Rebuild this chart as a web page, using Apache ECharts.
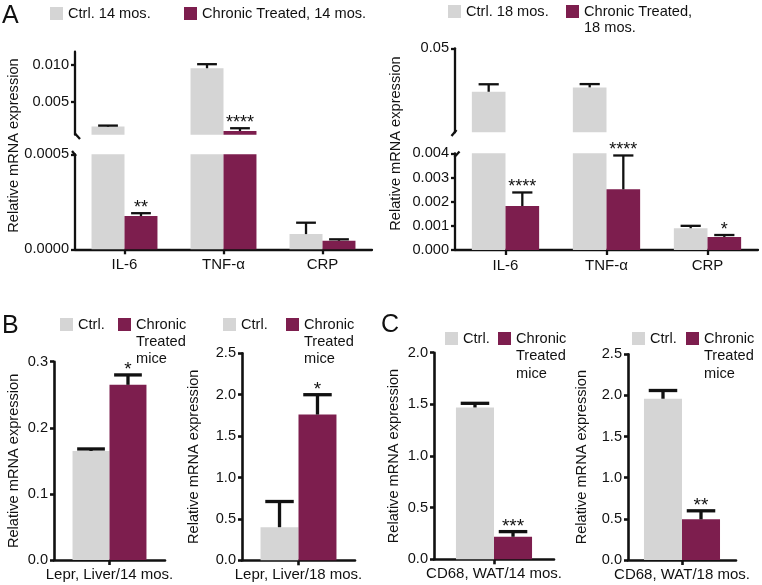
<!DOCTYPE html>
<html><head><meta charset="utf-8">
<script src="https://cdn.jsdelivr.net/npm/echarts@6/dist/echarts.min.js"></script>
<style>html,body{margin:0;padding:0;background:#fff}#c{width:762px;height:585px}</style>
</head><body><div id="c"></div>
<script>
// ---------- DATA ----------
// Panel A, 14 months
const genesA = ['IL-6', 'TNF-α', 'CRP'];
const ctrl14 = [0.0016, 0.00955, 0.00008];
const ctrl14Err = [0.00014, 0.00055, 0.00006];
const treated14 = [0.000175, 0.0010, 0.000045];
const treated14Err = [0.000015, 0.00038, 0.0000075];
const treated14Sig = ['**', '****', ''];
const ticksA14Upper = [0.005, 0.010];
// Panel A, 18 months
const ctrl18 = [0.0262, 0.0286, 0.0009];
const ctrl18Err = [0.0041, 0.0018, 0.0001];
const treated18 = [0.00182, 0.00251, 0.00054];
const treated18Err = [0.00056, 0.0014, 0.00008];
const treated18Sig = ['****', '****', '*'];
const ticksA18Upper = [0.05];
// Panel B
const leprCat14 = ['Lepr, Liver/14 mos.'];
const leprCtrl14 = [0.165], leprCtrl14Err = [0.003];
const leprTreated14 = [0.265], leprTreated14Err = [0.015], leprSig14 = ['*'];
const leprCat18 = ['Lepr, Liver/18 mos.'];
const leprCtrl18 = [0.40], leprCtrl18Err = [0.31];
const leprTreated18 = [1.76], leprTreated18Err = [0.24], leprSig18 = ['*'];
// Panel C
const cd68Cat14 = ['CD68, WAT/14 mos.'];
const cd68Ctrl14 = [1.47], cd68Ctrl14Err = [0.04];
const cd68Treated14 = [0.218], cd68Treated14Err = [0.05], cd68Sig14 = ['***'];
const cd68Cat18 = ['CD68, WAT/18 mos.'];
const cd68Ctrl18 = [1.96], cd68Ctrl18Err = [0.10];
const cd68Treated18 = [0.494], cd68Treated18Err = [0.104], cd68Sig18 = ['**'];
const noSig = ['', '', ''];

// ---------- STYLE ----------
const FONT = '"Liberation Sans", Arial, Helvetica, sans-serif';
const GRAY = '#d5d5d5', MAROON = '#7d1e4e', INK = '#111';
const YTITLE = 'Relative mRNA expression';

const grid = [], xAxis = [], yAxis = [], series = [], legend = [], graphic = [];

function addGrid(box, cats, y, showX, lw, xMargin) {
  const gi = grid.length;
  grid.push({left: box[0], top: box[1], width: box[2], height: box[3]});
  xAxis.push({
    type: 'category', gridIndex: gi, data: cats, show: showX,
    axisLine: {show: true, lineStyle: {color: INK, width: lw}},
    axisTick: {show: true, alignWithLabel: true, length: 5, lineStyle: {color: INK, width: lw}},
    axisLabel: {color: INK, fontSize: 15, fontFamily: FONT, margin: xMargin, interval: 0},
    splitLine: {show: false}
  });
  const lab = {color: INK, fontSize: 14.6, fontFamily: FONT, margin: 6, formatter: v => v.toFixed(y.dec)};
  const tick = {show: true, length: 4, lineStyle: {color: INK, width: lw}};
  if (y.custom) { lab.customValues = y.custom; tick.customValues = y.custom; }
  const ya = {
    type: 'value', gridIndex: gi, min: y.min, max: y.max,
    axisLine: {show: true, lineStyle: {color: INK, width: lw}},
    axisTick: tick, axisLabel: lab, splitLine: {show: false}
  };
  if (y.interval) ya.interval = y.interval;
  if (y.name) {
    ya.name = y.name; ya.nameLocation = 'middle'; ya.nameRotate = 90; ya.nameGap = y.nameGap;
    ya.nameTextStyle = {color: INK, fontSize: 14.6, fontFamily: FONT, lineHeight: 17};
  }
  yAxis.push(ya);
  return gi;
}

function addBars(gi, name, values, color, pct) {
  series.push({type: 'bar', name, xAxisIndex: gi, yAxisIndex: gi, data: values,
    barWidth: pct + '%', barGap: '0%', itemStyle: {color}, clip: true, silent: true, z: 2});
}

function addErr(gi, values, errs, sig, side, pct, capPct, lw, lo, hi, starSize) {
  series.push({
    type: 'custom', xAxisIndex: gi, yAxisIndex: gi, silent: true, z: 5,
    data: values.map((v, i) => [i, v, errs[i]]),
    renderItem: function (params, api) {
      const i = api.value(0), v = api.value(1), e = api.value(2);
      const top = v + e;
      const band = api.size([1, 0])[0];
      const bw = band * pct / 100;
      const x = api.coord([i, 0])[0] + side * bw / 2;
      const ch = [];
      const a = Math.max(v, lo), b = Math.min(top, hi);
      if (b > a) ch.push({type: 'line', shape: {x1: x, y1: api.coord([i, a])[1], x2: x, y2: api.coord([i, b])[1]},
        style: {stroke: INK, lineWidth: lw}});
      if (top >= lo && top <= hi) {
        const yc = api.coord([i, top])[1];
        const hw = bw * capPct / 2;
        ch.push({type: 'line', shape: {x1: x - hw, y1: yc, x2: x + hw, y2: yc}, style: {stroke: INK, lineWidth: lw}});
        const s = sig[params.dataIndex];
        if (s) ch.push({type: 'text', x: x, y: yc - 5,
          style: {text: s, font: starSize + 'px ' + FONT, fill: INK, align: 'center', verticalAlign: 'middle'}});
      }
      return {type: 'group', children: ch};
    }
  });
}

// Legend item whose first text line sits beside the square; extra lines hang below it.
function addLegend(name, left, iconTop, lines, lh) {
  const boxTopRel = 6.5 - (2 * lines - 1) * lh / 2;
  legend.push({
    data: [name], left: left, top: iconTop + boxTopRel, padding: 0, itemGap: 0,
    icon: 'rect', itemWidth: 13, itemHeight: 13, selectedMode: false,
    formatter: n => '\n'.repeat(lines - 1) + n,
    textStyle: {color: INK, fontSize: 14.6, fontFamily: FONT, lineHeight: lh}
  });
}

// ---------- PANEL A (14 mos.) ----------
{
  const pct = 33.3, lw = 2.3;
  const up = addGrid([75, 51.7, 297, 83], genesA, {min: 0.0005, max: 0.0118, custom: ticksA14Upper, dec: 3}, false, lw, 8);
  const lo = addGrid([75, 154.3, 297, 95], genesA, {min: 0, max: 0.0005, interval: 0.0005, dec: 4}, true, lw, 8);
  [[up, 0.0005, 0.0118], [lo, 0, 0.0005]].forEach(([g, a, b]) => {
    addBars(g, 'Ctrl. 14 mos.', ctrl14, GRAY, pct);
    addBars(g, 'Chronic Treated, 14 mos.', treated14, MAROON, pct);
    addErr(g, ctrl14, ctrl14Err, noSig, -1, pct, 0.6, lw, a, b, 18);
    addErr(g, treated14, treated14Err, treated14Sig, 1, pct, 0.6, lw, a, b, 18);
  });
  addLegend('Ctrl. 14 mos.', 50, 7, 1, 17);
  addLegend('Chronic Treated, 14 mos.', 184, 7, 1, 17);
  graphic.push({type: 'text', x: 14, y: 145.5, rotation: Math.PI / 2,
    style: {text: YTITLE, font: '14.6px ' + FONT, fill: INK, align: 'center', verticalAlign: 'middle'}});
  graphic.push({type: 'line', shape: {x1: 75, y1: 133.5, x2: 80, y2: 139}, style: {stroke: INK, lineWidth: lw}});
  graphic.push({type: 'line', shape: {x1: 72, y1: 151, x2: 76, y2: 156}, style: {stroke: INK, lineWidth: lw}});
}
// ---------- PANEL A (18 mos.) ----------
{
  const pct = 33.3, lw = 2.3;
  const up = addGrid([455, 48.3, 303, 84], genesA, {min: 0.004, max: 0.05, custom: ticksA18Upper, dec: 2}, false, lw, 8);
  const lo = addGrid([455, 153.3, 303, 96.7], genesA, {min: 0, max: 0.004, interval: 0.001, dec: 3}, true, lw, 8);
  [[up, 0.004, 0.05], [lo, 0, 0.004]].forEach(([g, a, b]) => {
    addBars(g, 'Ctrl. 18 mos.', ctrl18, GRAY, pct);
    addBars(g, 'Chronic Treated,\n18 mos.', treated18, MAROON, pct);
    addErr(g, ctrl18, ctrl18Err, noSig, -1, pct, 0.6, lw, a, b, 18);
    addErr(g, treated18, treated18Err, treated18Sig, 1, pct, 0.6, lw, a, b, 18);
  });
  addLegend('Ctrl. 18 mos.', 448, 5, 1, 17);
  addLegend('Chronic Treated,\n18 mos.', 566, 5, 2, 16);
  graphic.push({type: 'text', x: 395.5, y: 143.5, rotation: Math.PI / 2,
    style: {text: YTITLE, font: '14.6px ' + FONT, fill: INK, align: 'center', verticalAlign: 'middle'}});
  graphic.push({type: 'line', shape: {x1: 451.5, y1: 136, x2: 456.5, y2: 130}, style: {stroke: INK, lineWidth: lw}});
  graphic.push({type: 'line', shape: {x1: 454.5, y1: 157, x2: 459.5, y2: 151.5}, style: {stroke: INK, lineWidth: lw}});
}
// ---------- PANELS B, C ----------
function simplePanel(box, cats, ctrl, ctrlErr, trt, trtErr, sig, max, nameGap, pct) {
  const lw = 2.6;
  const g = addGrid(box, cats, {min: 0, max: max, interval: 0.5 * (max <= 0.5 ? 0.2 : 1), dec: 1, name: YTITLE, nameGap: nameGap}, true, lw, 7);
  addBars(g, 'Ctrl.', ctrl, GRAY, pct);
  addBars(g, 'Chronic\nTreated\nmice', trt, MAROON, pct);
  addErr(g, ctrl, ctrlErr, [''], -1, pct, 0.75, 3.3, 0, max, 19);
  addErr(g, trt, trtErr, sig, 1, pct, 0.75, 3.3, 0, max, 19);
}
simplePanel([54, 361.7, 111, 198.3], leprCat14, leprCtrl14, leprCtrl14Err, leprTreated14, leprTreated14Err, leprSig14, 0.3, 31.5, 33.3);
simplePanel([242, 353.3, 113, 207], leprCat18, leprCtrl18, leprCtrl18Err, leprTreated18, leprTreated18Err, leprSig18, 2.5, 39.5, 33.6);
simplePanel([434, 352.7, 120, 206.6], cd68Cat14, cd68Ctrl14, cd68Ctrl14Err, cd68Treated14, cd68Treated14Err, cd68Sig14, 2.0, 32, 31.7);
simplePanel([628, 354.3, 108, 205.7], cd68Cat18, cd68Ctrl18, cd68Ctrl18Err, cd68Treated18, cd68Treated18Err, cd68Sig18, 2.5, 37.5, 35.2);

addLegend('Ctrl.', 60, 318, 1, 17);
addLegend('Chronic\nTreated\nmice', 118, 318, 3, 17);
addLegend('Ctrl.', 223, 318, 1, 17);
addLegend('Chronic\nTreated\nmice', 286, 318, 3, 17);
addLegend('Ctrl.', 445, 332, 1, 17.5);
addLegend('Chronic\nTreated\nmice', 498, 332, 3, 17.5);
addLegend('Ctrl.', 632, 332, 1, 17.5);
addLegend('Chronic\nTreated\nmice', 686, 332, 3, 17.5);

// panel letters
[['A', 2, 16], ['B', 2, 326.5], ['C', 381, 325]].forEach(([t, x, y]) => {
  graphic.push({type: 'text', x: x, y: y, style: {text: t, font: '25px ' + FONT, fill: INK, align: 'left', verticalAlign: 'middle'}});
});

const chart = echarts.init(document.getElementById('c'), null, {renderer: 'canvas'});
chart.setOption({animation: false, backgroundColor: '#fff', grid, xAxis, yAxis, series, legend, graphic});
</script></body></html>
